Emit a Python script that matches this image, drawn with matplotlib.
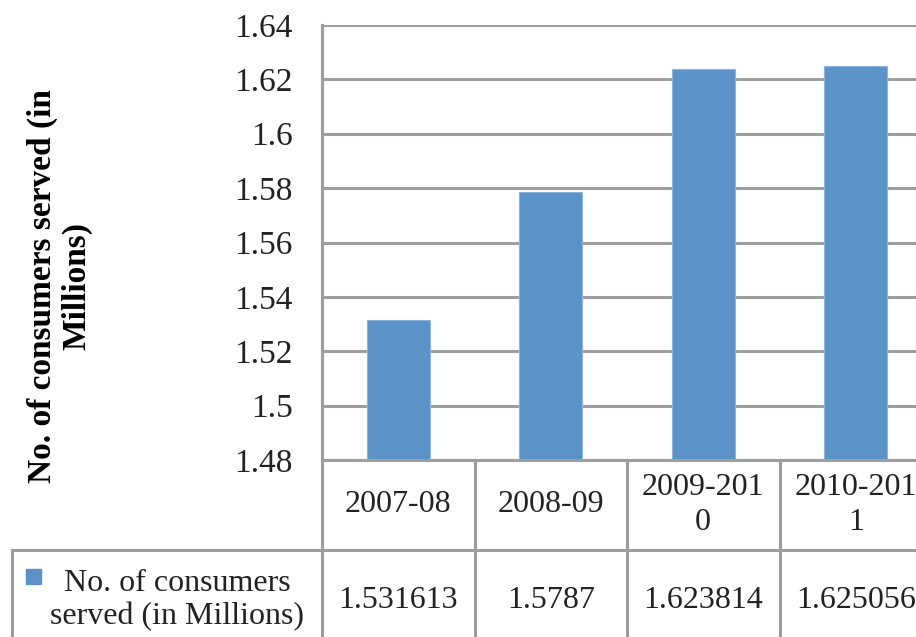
import matplotlib
matplotlib.use("Agg")
import matplotlib.pyplot as plt
import matplotlib.transforms as mtransforms

# Data
years = ["2007-08", "2008-09", "2009-201\n0", "2010-201\n1"]
consumers = [1.531613, 1.5787, 1.623814, 1.625056]
value_labels = ["1.531613", "1.5787", "1.623814", "1.625056"]
series_name = "No. of consumers\nserved (in Millions)"
y_ticks = [1.48, 1.50, 1.52, 1.54, 1.56, 1.58, 1.60, 1.62, 1.64]
y_tick_labels = ["1.48", "1.5", "1.52", "1.54", "1.56", "1.58", "1.6", "1.62", "1.64"]

BAR = "#5B93C9"
GRID = "#9E9E9E"
TEXT = "#222222"
FONT = "Liberation Serif"
FS = 24
FS_TABLE = 23

W, H = 916, 637
fig = plt.figure(figsize=(W / 100, H / 100), dpi=100)

# Plot area in pixels: left 322, right 932 (runs past the edge), top 25, bottom 460
left, right, top, bottom = 322, 932, 25, 460
ax = fig.add_axes([left / W, 1 - bottom / H, (right - left) / W, (bottom - top) / H])

x = list(range(len(consumers)))
ax.bar(x, consumers, width=0.41, color=BAR, edgecolor="#8DB3DE", linewidth=0.8,
       zorder=3)
ax.set_xlim(-0.5, len(consumers) - 0.5)
ax.set_ylim(1.48, 1.64)
ax.set_yticks(y_ticks)
ax.set_yticklabels(y_tick_labels, fontfamily=FONT, fontsize=FS, color=TEXT)
ax.tick_params(axis="y", length=0, pad=21)
ax.set_xticks([])
ax.yaxis.grid(True, color=GRID, linewidth=2.2, zorder=0)
ax.set_axisbelow(True)
for side in ("top", "right", "bottom"):
    ax.spines[side].set_visible(False)
ax.spines["left"].set_color(GRID)
ax.spines["left"].set_linewidth(2.2)

# Data table below the plot: x in data units, y in axes fraction
trans = mtransforms.blended_transform_factory(ax.transData, ax.transAxes)
px = lambda p: (bottom - p) / (bottom - top)  # pixel row -> axes fraction

row1_bottom = px(550)
table_bottom = px(700)
legend_left = -0.5 + (12 - left) / ((right - left) / len(consumers))
xmax = len(consumers) - 0.5

line_kw = dict(color=GRID, linewidth=2.2, transform=trans, clip_on=False, zorder=4)
ax.plot([-0.5, xmax], [0, 0], **line_kw)
ax.plot([legend_left, xmax], [row1_bottom, row1_bottom], **line_kw)
ax.plot([-0.5, -0.5], [1, table_bottom], **line_kw)
for b in x[1:]:
    ax.plot([b - 0.5, b - 0.5], [0, table_bottom], **line_kw)
ax.plot([legend_left, legend_left], [row1_bottom, table_bottom], **line_kw)

for i, lab in enumerate(years):
    ax.text(i, px(505), lab, transform=trans, ha="center", va="center",
            fontfamily=FONT, fontsize=FS_TABLE, color=TEXT, linespacing=1.25,
            clip_on=False)
for i, lab in enumerate(value_labels):
    ax.text(i, px(601), lab, transform=trans, ha="center", va="center",
            fontfamily=FONT, fontsize=FS_TABLE, color=TEXT, clip_on=False)

# Legend key inside the table row
fig.patches.append(plt.Rectangle((26 / W, 1 - 584 / H), 15 / W, 15 / H,
                                 transform=fig.transFigure, color=BAR))
fig.text(177 / W, 1 - 600 / H, series_name, ha="center", va="center",
         fontfamily=FONT, fontsize=FS_TABLE, color=TEXT, linespacing=1.15)

# Axis title
ax.set_ylabel("No. of consumers served (in\nMillions)", fontfamily=FONT,
              fontsize=FS, fontweight="bold", linespacing=1.1, labelpad=0)
ax.yaxis.set_label_coords((92 - left) / (right - left), px(286))

fig.savefig("out.png", dpi=100)
